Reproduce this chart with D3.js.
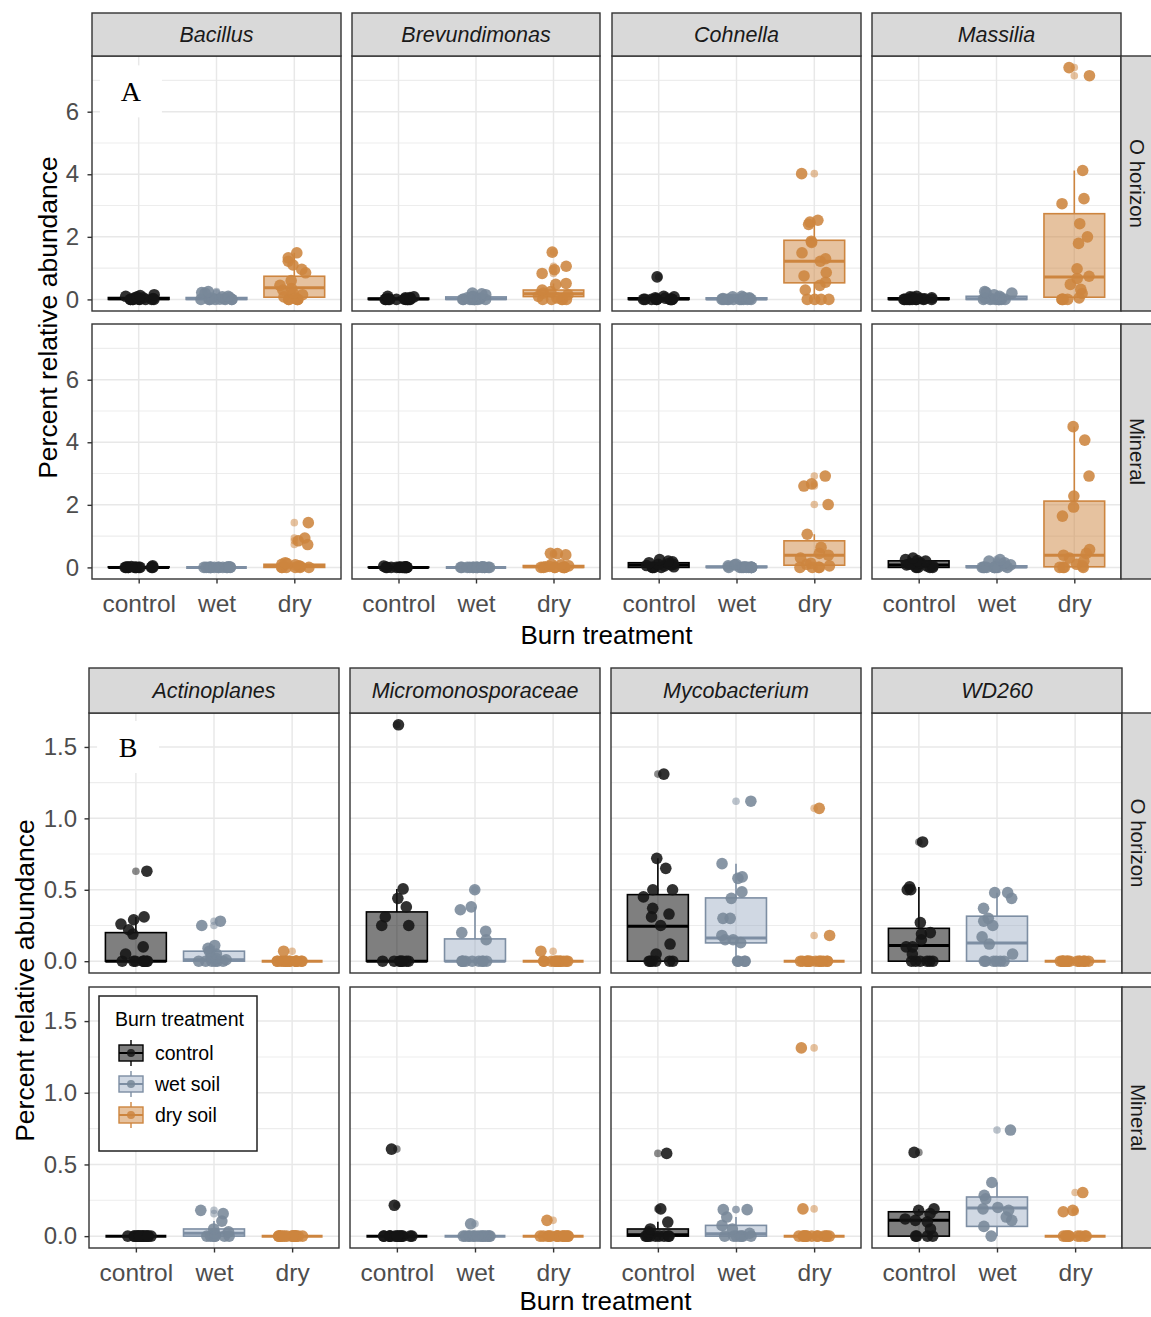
<!DOCTYPE html>
<html>
<head>
<meta charset="utf-8">
<script src="https://cdn.jsdelivr.net/npm/d3@7"></script>
<style>
  body { margin: 0; background: #fff; }
  svg { display: block; }
</style>
</head>
<body>
<svg id="fig" width="1151" height="1317"></svg>
<script>
// ---------- categories and labels ----------
const treatments = ["control", "wet", "dry"];
const legendLabels = ["control", "wet soil", "dry soil"];
const horizons = ["O horizon", "Mineral"];
const taxaA = ["Bacillus", "Brevundimonas", "Cohnella", "Massilia"];
const taxaB = ["Actinoplanes", "Micromonosporaceae", "Mycobacterium", "WD260"];
const yTicksA = [0, 2, 4, 6];
const yTicksB = [0, 0.5, 1.0, 1.5];
const yMinorA = [1, 3, 5, 7];
const yMinorB = [0.25, 0.75, 1.25];

// ---------- box summaries: [lower whisker, q1, median, q3, upper whisker] per treatment ----------
const boxBacillus = {
  "O horizon": [[0, 0, 0.02, 0.06, 0.15], [0, 0, 0.02, 0.06, 0.12], [0, 0.07, 0.37, 0.74, 1.49]],
  "Mineral":   [[0, 0, 0, 0.02, 0.05], [0, 0, 0, 0, 0], [0, 0, 0.03, 0.1, 0.15]]
};
const boxBrevundimonas = {
  "O horizon": [[0, 0, 0.01, 0.04, 0.1], [0, 0, 0.02, 0.08, 0.2], [0, 0.09, 0.18, 0.3, 0.51]],
  "Mineral":   [[0, 0, 0, 0.01, 0.02], [0, 0, 0, 0, 0], [0, 0, 0.02, 0.06, 0.1]]
};
const boxCohnella = {
  "O horizon": [[0, 0, 0.01, 0.05, 0.1], [0, 0, 0.01, 0.05, 0.1], [0, 0.53, 1.22, 1.89, 2.53]],
  "Mineral":   [[0, 0, 0.08, 0.15, 0.25], [0, 0, 0.01, 0.04, 0.1], [0, 0.07, 0.39, 0.85, 1.06]]
};
const boxMassilia = {
  "O horizon": [[0, 0, 0.01, 0.05, 0.1], [0, 0, 0.02, 0.1, 0.25], [0, 0.07, 0.72, 2.74, 4.12]],
  "Mineral":   [[0, 0, 0.08, 0.21, 0.3], [0, 0, 0.01, 0.05, 0.12], [0, 0.02, 0.39, 2.12, 4.5]]
};
const boxActinoplanes = {
  "O horizon": [[0, 0, 0, 0.2, 0.31], [0, 0, 0.01, 0.07, 0.11], [0, 0, 0, 0, 0]],
  "Mineral":   [[0, 0, 0, 0, 0], [0, 0, 0.02, 0.05, 0.105], [0, 0, 0, 0, 0]]
};
const boxMicromonosporaceae = {
  "O horizon": [[0, 0, 0, 0.345, 0.506], [0, 0, 0, 0.156, 0.38], [0, 0, 0, 0, 0]],
  "Mineral":   [[0, 0, 0, 0, 0], [0, 0, 0, 0, 0], [0, 0, 0, 0, 0]]
};
const boxMycobacterium = {
  "O horizon": [[0, 0, 0.245, 0.466, 0.72], [0, 0.128, 0.163, 0.443, 0.683], [0, 0, 0, 0, 0]],
  "Mineral":   [[0, 0, 0.01, 0.05, 0.1], [0, 0, 0.016, 0.075, 0.133], [0, 0, 0, 0, 0]]
};
const boxWD260 = {
  "O horizon": [[0, 0, 0.11, 0.23, 0.52], [0, 0, 0.128, 0.315, 0.48], [0, 0, 0, 0, 0]],
  "Mineral":   [[0, 0, 0.11, 0.17, 0.19], [0, 0.068, 0.196, 0.273, 0.374], [0, 0, 0, 0, 0]]
};

// ---------- sample values (percent relative abundance) per treatment ----------
const ptsBacillus = {
  "O horizon": [
    [0, 0, 0, 0, 0, 0, 0, 0, 0.01, 0.02, 0.03, 0.05, 0.05, 0.08, 0.1, 0.12, 0.15],
    [0, 0, 0, 0, 0, 0, 0, 0.01, 0.02, 0.04, 0.06, 0.08, 0.1, 0.2, 0.22, 0.25],
    [0, 0, 0, 0, 0, 0.05, 0.08, 0.15, 0.2, 0.3, 0.35, 0.45, 0.6, 0.85, 0.96, 1.1, 1.22, 1.33, 1.49]
  ],
  "Mineral": [
    [0, 0, 0, 0, 0, 0, 0, 0, 0, 0, 0, 0.01, 0.02, 0.03, 0.05],
    [0, 0, 0, 0, 0, 0, 0, 0, 0, 0, 0, 0, 0, 0.01, 0.02],
    [0, 0, 0, 0, 0, 0, 0.03, 0.05, 0.08, 0.1, 0.12, 0.15, 0.73, 0.85, 0.94, 1.43]
  ]
};
const ptsBrevundimonas = {
  "O horizon": [
    [0, 0, 0, 0, 0, 0, 0, 0, 0, 0, 0.01, 0.02, 0.03, 0.05, 0.06, 0.08, 0.1],
    [0, 0, 0, 0, 0, 0, 0, 0, 0, 0.02, 0.04, 0.05, 0.08, 0.1, 0.15, 0.18, 0.2],
    [0, 0, 0, 0, 0, 0.05, 0.1, 0.15, 0.2, 0.25, 0.3, 0.48, 0.51, 0.83, 0.95, 1.06, 1.51]
  ],
  "Mineral": [
    [0, 0, 0, 0, 0, 0, 0, 0, 0, 0, 0, 0, 0, 0.01, 0.02, 0.04],
    [0, 0, 0, 0, 0, 0, 0, 0, 0, 0, 0, 0, 0, 0, 0.01, 0.02],
    [0, 0, 0, 0, 0, 0, 0, 0, 0.02, 0.03, 0.05, 0.08, 0.1, 0.4, 0.44, 0.45]
  ]
};
const ptsCohnella = {
  "O horizon": [
    [0, 0, 0, 0, 0, 0, 0, 0, 0, 0, 0.02, 0.04, 0.05, 0.08, 0.1, 0.72],
    [0, 0, 0, 0, 0, 0, 0, 0, 0, 0, 0.02, 0.03, 0.05, 0.06, 0.08, 0.1],
    [0, 0, 0, 0, 0.3, 0.45, 0.55, 0.75, 0.86, 1.22, 1.3, 1.49, 1.82, 1.86, 2.4, 2.47, 2.53, 4.02]
  ],
  "Mineral": [
    [0, 0, 0, 0, 0.02, 0.05, 0.06, 0.08, 0.1, 0.1, 0.12, 0.15, 0.18, 0.2, 0.25],
    [0, 0, 0, 0, 0, 0, 0, 0, 0, 0, 0.02, 0.05, 0.08, 0.1],
    [0, 0, 0, 0, 0.05, 0.1, 0.13, 0.3, 0.39, 0.45, 0.64, 1.06, 2.01, 2.6, 2.67, 2.92]
  ]
};
const ptsMassilia = {
  "O horizon": [
    [0, 0, 0, 0, 0, 0, 0, 0, 0, 0, 0.02, 0.03, 0.05, 0.07, 0.08, 0.1],
    [0, 0, 0, 0, 0, 0, 0, 0, 0.02, 0.04, 0.05, 0.1, 0.15, 0.2, 0.22, 0.25],
    [0, 0, 0, 0, 0.05, 0.19, 0.32, 0.48, 0.67, 0.74, 0.98, 1.79, 2.0, 2.42, 3.06, 3.22, 4.12, 7.15, 7.41]
  ],
  "Mineral": [
    [0, 0, 0, 0, 0.02, 0.05, 0.05, 0.08, 0.1, 0.12, 0.15, 0.2, 0.22, 0.25, 0.3],
    [0, 0, 0, 0, 0, 0, 0, 0, 0, 0, 0.03, 0.05, 0.08, 0.15, 0.2, 0.25],
    [0, 0, 0, 0, 0.05, 0.1, 0.2, 0.3, 0.39, 0.45, 0.57, 1.64, 1.93, 2.28, 2.92, 4.07, 4.5]
  ]
};
const ptsActinoplanes = {
  "O horizon": [
    [0, 0, 0, 0, 0, 0, 0, 0, 0.05, 0.1, 0.19, 0.22, 0.26, 0.29, 0.31, 0.63],
    [0, 0, 0, 0, 0, 0, 0.01, 0.02, 0.03, 0.05, 0.07, 0.09, 0.11, 0.25, 0.28],
    [0, 0, 0, 0, 0, 0, 0, 0, 0, 0, 0, 0, 0, 0, 0, 0.07]
  ],
  "Mineral": [
    [0, 0, 0, 0, 0, 0, 0, 0, 0, 0, 0, 0, 0, 0, 0, 0],
    [0, 0, 0, 0, 0, 0, 0, 0.02, 0.03, 0.05, 0.105, 0.157, 0.18],
    [0, 0, 0, 0, 0, 0, 0, 0, 0, 0, 0, 0, 0, 0, 0, 0]
  ]
};
const ptsMicromonosporaceae = {
  "O horizon": [
    [0, 0, 0, 0, 0, 0, 0, 0, 0.25, 0.25, 0.31, 0.38, 0.44, 0.506, 1.655],
    [0, 0, 0, 0, 0, 0, 0, 0, 0, 0.15, 0.2, 0.21, 0.36, 0.38, 0.5],
    [0, 0, 0, 0, 0, 0, 0, 0, 0, 0, 0, 0, 0, 0.07]
  ],
  "Mineral": [
    [0, 0, 0, 0, 0, 0, 0, 0, 0, 0, 0, 0, 0, 0, 0.215, 0.607],
    [0, 0, 0, 0, 0, 0, 0, 0, 0, 0, 0, 0, 0, 0, 0.086],
    [0, 0, 0, 0, 0, 0, 0, 0, 0, 0, 0, 0, 0, 0, 0.11]
  ]
};
const ptsMycobacterium = {
  "O horizon": [
    [0, 0, 0, 0, 0, 0, 0.05, 0.12, 0.25, 0.31, 0.33, 0.37, 0.45, 0.5, 0.5, 0.65, 0.72, 1.31],
    [0, 0, 0, 0, 0.13, 0.15, 0.15, 0.18, 0.3, 0.3, 0.44, 0.485, 0.58, 0.59, 0.683, 1.12],
    [0, 0, 0, 0, 0, 0, 0, 0, 0, 0, 0, 0, 0, 0, 0.18, 1.07]
  ],
  "Mineral": [
    [0, 0, 0, 0, 0, 0, 0, 0, 0, 0.03, 0.05, 0.098, 0.19, 0.577],
    [0, 0, 0, 0, 0, 0, 0, 0.02, 0.05, 0.075, 0.133, 0.185, 0.185],
    [0, 0, 0, 0, 0, 0, 0, 0, 0, 0, 0, 0, 0, 0.19, 1.313]
  ]
};
const ptsWD260 = {
  "O horizon": [
    [0, 0, 0, 0, 0, 0, 0.05, 0.1, 0.1, 0.15, 0.19, 0.2, 0.27, 0.5, 0.5, 0.52, 0.835],
    [0, 0, 0, 0, 0, 0, 0.05, 0.12, 0.17, 0.25, 0.28, 0.3, 0.37, 0.44, 0.48, 0.48],
    [0, 0, 0, 0, 0, 0, 0, 0, 0, 0, 0, 0, 0, 0, 0, 0]
  ],
  "Mineral": [
    [0, 0, 0, 0, 0.05, 0.1, 0.11, 0.12, 0.157, 0.18, 0.19, 0.584],
    [0, 0.068, 0.11, 0.133, 0.18, 0.19, 0.2, 0.26, 0.285, 0.374, 0.74],
    [0, 0, 0, 0, 0, 0, 0, 0, 0, 0.17, 0.18, 0.304]
  ]
};

// lookup tables built from the arrays above
const boxes = {
  Bacillus: boxBacillus, Brevundimonas: boxBrevundimonas, Cohnella: boxCohnella, Massilia: boxMassilia,
  Actinoplanes: boxActinoplanes, Micromonosporaceae: boxMicromonosporaceae,
  Mycobacterium: boxMycobacterium, WD260: boxWD260
};
const samples = {
  Bacillus: ptsBacillus, Brevundimonas: ptsBrevundimonas, Cohnella: ptsCohnella, Massilia: ptsMassilia,
  Actinoplanes: ptsActinoplanes, Micromonosporaceae: ptsMicromonosporaceae,
  Mycobacterium: ptsMycobacterium, WD260: ptsWD260
};

// ---------- styling ----------
const FONT = "'Liberation Sans', Arial, sans-serif";
const boxFill = ["#000000", "#8fa3bd", "#cd853f"];
const boxFillOpacity = [0.5, 0.42, 0.5];
const boxStroke = ["#000000", "#7d8ea3", "#cd853f"];
const pointColor = ["#151515", "#778899", "#cd853f"];

const svg = d3.select("#fig");

function drawBlock(cfg, blockIndex) {
  const g = svg.append("g");
  // shared y domain across all facets of the block, with 5% expansion
  const allVals = cfg.taxa.flatMap(t => horizons.flatMap(h => samples[t][h].flat()));
  const vmax = d3.max(allVals), vmin = 0;
  const pad = (vmax - vmin) * 0.05;
  const yDomain = [vmin - pad, vmax + pad];

  horizons.forEach((hz, r) => {
    const [y0, y1] = cfg.rows[r];
    const y = d3.scaleLinear().domain(yDomain).range([y1, y0]);

    cfg.taxa.forEach((taxon, c) => {
      const [x0, x1] = cfg.cols[c];
      const x = d3.scaleLinear().domain([0.4, 3.6]).range([x0, x1]);
      const p = g.append("g");

      // panel background + grid
      p.append("rect").attr("x", x0).attr("y", y0).attr("width", x1 - x0).attr("height", y1 - y0).attr("fill", "#fff");
      p.selectAll(".ymin").data(cfg.yMinor).join("line")
        .attr("x1", x0).attr("x2", x1).attr("y1", d => y(d)).attr("y2", d => y(d))
        .attr("stroke", "#EDEDED").attr("stroke-width", 1.1);
      p.selectAll(".ymaj").data(cfg.yTicks).join("line")
        .attr("x1", x0).attr("x2", x1).attr("y1", d => y(d)).attr("y2", d => y(d))
        .attr("stroke", "#E8E8E8").attr("stroke-width", 1.5);
      p.selectAll(".xmaj").data([1, 2, 3]).join("line")
        .attr("x1", d => x(d)).attr("x2", d => x(d)).attr("y1", y0).attr("y2", y1)
        .attr("stroke", "#E8E8E8").attr("stroke-width", 1.5);

      // panel tag (A / B) in the first facet, on a white label
      if (r === 0 && c === 0) {
        const tx = x(cfg.tagPos[0]), ty = y(cfg.tagPos[1]);
        p.append("rect").attr("x", tx - 31).attr("y", ty - 26).attr("width", 62).attr("height", 52).attr("fill", "#fff");
        p.append("text").attr("x", tx).attr("y", ty + 10).attr("text-anchor", "middle")
          .attr("font-family", "'Liberation Serif', 'Times New Roman', serif").attr("font-size", 28)
          .attr("fill", "#000").text(cfg.tag);
      }

      const bx = boxes[taxon][hz];
      const pts = samples[taxon][hz];
      treatments.forEach((tr, i) => {
        const [lo, q1, med, q3, hi] = bx[i];
        const cx = x(i + 1);
        const hw = x(i + 1 + 0.39) - cx;
        const bg = p.append("g");
        bg.append("line").attr("x1", cx).attr("x2", cx).attr("y1", y(q3)).attr("y2", y(hi))
          .attr("stroke", boxStroke[i]).attr("stroke-width", 1.6);
        bg.append("line").attr("x1", cx).attr("x2", cx).attr("y1", y(q1)).attr("y2", y(lo))
          .attr("stroke", boxStroke[i]).attr("stroke-width", 1.6);
        bg.append("rect").attr("x", cx - hw).attr("y", y(q3)).attr("width", 2 * hw)
          .attr("height", Math.max(0, y(q1) - y(q3)))
          .attr("fill", boxFill[i]).attr("fill-opacity", boxFillOpacity[i])
          .attr("stroke", boxStroke[i]).attr("stroke-width", 1.6);
        bg.append("line").attr("x1", cx - hw).attr("x2", cx + hw).attr("y1", y(med)).attr("y2", y(med))
          .attr("stroke", boxStroke[i]).attr("stroke-width", 3);
        // outliers beyond the whiskers, drawn at the category centre
        const outl = pts[i].filter(v => v > hi + 1e-9 || v < lo - 1e-9);
        bg.selectAll(".out").data(outl).join("circle")
          .attr("cx", cx).attr("cy", d => y(d)).attr("r", 3.8)
          .attr("fill", pointColor[i]).attr("fill-opacity", 0.5);
      });

      // jittered samples
      treatments.forEach((tr, i) => {
        const seed = ((blockIndex * 97 + r * 31 + c * 7 + i * 3 + 11) * 9301 + 49297) % 233280 / 233280;
        const jit = d3.randomUniform.source(d3.randomLcg(seed))(-0.2, 0.2);
        const data = pts[i].map(v => ({ v, dx: jit() }));
        p.selectAll(".pt" + i).data(data).join("circle")
          .attr("cx", d => x(i + 1 + d.dx)).attr("cy", d => y(d.v)).attr("r", 5.8)
          .attr("fill", pointColor[i]).attr("fill-opacity", 0.88);
      });

      // panel border
      p.append("rect").attr("x", x0).attr("y", y0).attr("width", x1 - x0).attr("height", y1 - y0)
        .attr("fill", "none").attr("stroke", "#333").attr("stroke-width", 1.4);

      // top strip
      if (r === 0) {
        p.append("rect").attr("x", x0).attr("y", cfg.strip[0]).attr("width", x1 - x0)
          .attr("height", cfg.strip[1] - cfg.strip[0])
          .attr("fill", "#D9D9D9").attr("stroke", "#333").attr("stroke-width", 1.4);
        p.append("text").attr("x", (x0 + x1) / 2).attr("y", (cfg.strip[0] + cfg.strip[1]) / 2 + 7.5)
          .attr("text-anchor", "middle").attr("font-family", FONT).attr("font-style", "italic")
          .attr("font-size", 21.5).attr("fill", "#1A1A1A").text(taxon);
      }
      // right strip
      if (c === cfg.taxa.length - 1) {
        p.append("rect").attr("x", x1).attr("y", y0).attr("width", 44).attr("height", y1 - y0)
          .attr("fill", "#D9D9D9").attr("stroke", "#333").attr("stroke-width", 1.4);
        const sx = x1 + 16, sy = (y0 + y1) / 2;
        p.append("text").attr("transform", `translate(${sx},${sy}) rotate(90)`)
          .attr("text-anchor", "middle").attr("dy", "0.35em")
          .attr("font-family", FONT).attr("font-size", 20.5).attr("fill", "#1A1A1A").text(hz);
      }

      // y axis on the first column
      if (c === 0) {
        const ax = p.append("g").attr("transform", `translate(${x0},0)`)
          .call(d3.axisLeft(y).tickValues(cfg.yTicks).tickSize(4.5).tickPadding(cfg.yPad)
            .tickFormat(cfg.fmt));
        ax.select(".domain").remove();
        ax.selectAll("line").attr("stroke", "#333").attr("stroke-width", 1.4);
        ax.selectAll("text").attr("font-family", FONT).attr("font-size", 24).attr("fill", "#4D4D4D");
      }
      // x axis on the bottom row
      if (r === horizons.length - 1) {
        const ax = p.append("g").attr("transform", `translate(0,${y1})`)
          .call(d3.axisBottom(x).tickValues([1, 2, 3]).tickSize(4.5).tickPadding(11)
            .tickFormat(d => treatments[d - 1]));
        ax.select(".domain").remove();
        ax.selectAll("line").attr("stroke", "#333").attr("stroke-width", 1.4);
        ax.selectAll("text").attr("font-family", FONT).attr("font-size", 24.5).attr("fill", "#4D4D4D");
      }
    });
  });

  // axis titles
  const xMid = (cfg.cols[0][0] + cfg.cols[cfg.cols.length - 1][1]) / 2;
  g.append("text").attr("x", xMid).attr("y", cfg.xTitleY).attr("text-anchor", "middle")
    .attr("font-family", FONT).attr("font-size", 26).attr("fill", "#000").text("Burn treatment");
  const yMid = (cfg.rows[0][0] + cfg.rows[1][1]) / 2;
  g.append("text").attr("transform", `translate(${cfg.yTitleX},${yMid}) rotate(-90)`)
    .attr("text-anchor", "middle").attr("font-family", FONT).attr("font-size", 26.5)
    .attr("fill", "#000").text("Percent relative abundance");
}

drawBlock({
  taxa: taxaA,
  cols: [[92, 341], [352, 600], [612, 861], [872, 1121]],
  rows: [[56, 311], [324, 579]],
  strip: [13, 56],
  yTicks: yTicksA, yMinor: yMinorA, yPad: 8.5,
  fmt: d3.format("d"),
  tag: "A", tagPos: [0.9, 6.65],
  xTitleY: 644, yTitleX: 57
}, 0);

drawBlock({
  taxa: taxaB,
  cols: [[89, 339], [350, 600], [611, 861], [872, 1122]],
  rows: [[713, 973], [987, 1248]],
  strip: [668, 713],
  yTicks: yTicksB, yMinor: yMinorB, yPad: 7.5,
  fmt: d3.format(".1f"),
  tag: "B", tagPos: [0.9, 1.5],
  xTitleY: 1310, yTitleX: 34
}, 1);

// ---------- legend ----------
const lg = svg.append("g");
lg.append("rect").attr("x", 99).attr("y", 996).attr("width", 158).attr("height", 155)
  .attr("fill", "#fff").attr("stroke", "#222").attr("stroke-width", 1.5);
lg.append("text").attr("x", 115).attr("y", 1026).attr("font-family", FONT).attr("font-size", 19.5)
  .attr("fill", "#000").text("Burn treatment");
const keyY = [1053, 1084, 1115];
legendLabels.forEach((lab, i) => {
  const cy = keyY[i], cx = 131;
  lg.append("line").attr("x1", cx).attr("x2", cx).attr("y1", cy - 13).attr("y2", cy + 13)
    .attr("stroke", boxStroke[i]).attr("stroke-width", 1.4);
  lg.append("rect").attr("x", cx - 12).attr("y", cy - 8).attr("width", 24).attr("height", 16)
    .attr("fill", "#fff");
  lg.append("rect").attr("x", cx - 12).attr("y", cy - 8).attr("width", 24).attr("height", 16)
    .attr("fill", boxFill[i]).attr("fill-opacity", boxFillOpacity[i])
    .attr("stroke", boxStroke[i]).attr("stroke-width", 1.4);
  lg.append("line").attr("x1", cx - 12).attr("x2", cx + 12).attr("y1", cy).attr("y2", cy)
    .attr("stroke", boxStroke[i]).attr("stroke-width", 2);
  lg.append("circle").attr("cx", cx).attr("cy", cy).attr("r", 4)
    .attr("fill", pointColor[i]).attr("fill-opacity", 0.85);
  lg.append("text").attr("x", 155).attr("y", cy + 7).attr("font-family", FONT).attr("font-size", 19.5)
    .attr("fill", "#000").text(lab);
});
</script>
</body>
</html>
